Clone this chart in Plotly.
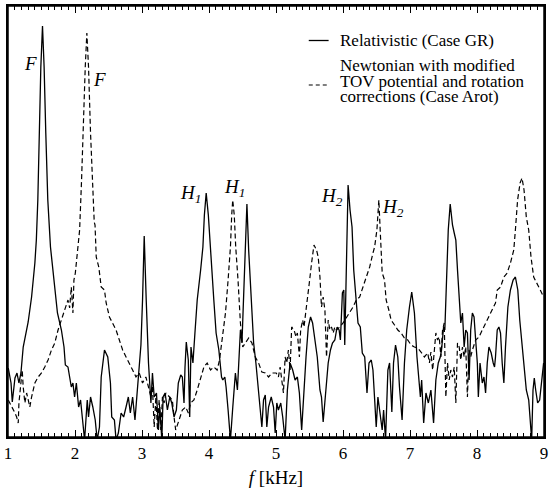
import plotly.graph_objects as go

# Relativistic (Case GR) spectrum: frequency [kHz] and amplitude (arbitrary units)
f_gr = [1.004, 1.045, 1.064, 1.104, 1.134, 1.163, 1.193, 1.227, 1.301, 1.352, 1.401, 1.423, 1.445, 1.464, 1.490, 1.515,
        1.539, 1.564, 1.594, 1.634, 1.698, 1.738, 1.797, 1.836, 1.856, 1.895, 1.920, 1.945, 1.969, 1.994, 2.020, 2.054,
        2.083, 2.103, 2.128, 2.143, 2.183, 2.202, 2.232, 2.266, 2.302, 2.331, 2.365, 2.391, 2.440, 2.489, 2.529, 2.548,
        2.588, 2.613, 2.647, 2.688, 2.726, 2.762, 2.796, 2.826, 2.860, 2.895, 2.934, 2.959, 2.984, 3.008, 3.033, 3.063,
        3.097, 3.133, 3.156, 3.182, 3.216, 3.245, 3.266, 3.296, 3.315, 3.345, 3.379, 3.415, 3.444, 3.478, 3.513, 3.542,
        3.578, 3.602, 3.627, 3.642, 3.661, 3.691, 3.712, 3.731, 3.760, 3.790, 3.824, 3.875, 3.909, 3.931, 3.958, 3.990,
        4.028, 4.072, 4.106, 4.147, 4.187, 4.206, 4.236, 4.255, 4.285, 4.320, 4.355, 4.394, 4.424, 4.443, 4.469, 4.492,
        4.518, 4.543, 4.566, 4.592, 4.632, 4.666, 4.700, 4.730, 4.765, 4.789, 4.814, 4.840, 4.863, 4.889, 4.929, 4.963,
        4.988, 5.012, 5.036, 5.071, 5.100, 5.136, 5.170, 5.210, 5.249, 5.285, 5.319, 5.349, 5.383, 5.418, 5.448, 5.482,
        5.516, 5.546, 5.581, 5.616, 5.656, 5.679, 5.704, 5.739, 5.779, 5.813, 5.843, 5.878, 5.912, 5.942, 5.961, 5.991,
        6.012, 6.026, 6.050, 6.076, 6.105, 6.135, 6.160, 6.190, 6.224, 6.258, 6.288, 6.324, 6.358, 6.388, 6.422, 6.447,
        6.472, 6.496, 6.521, 6.555, 6.585, 6.606, 6.635, 6.670, 6.695, 6.729, 6.754, 6.784, 6.818, 6.843, 6.882, 6.917,
        6.951, 6.992, 7.026, 7.066, 7.104, 7.155, 7.174, 7.204, 7.238, 7.274, 7.312, 7.352, 7.386, 7.422, 7.452, 7.471,
        7.501, 7.520, 7.550, 7.571, 7.600, 7.634, 7.660, 7.684, 7.709, 7.734, 7.758, 7.783, 7.808, 7.832, 7.857, 7.882,
        7.906, 7.931, 7.956, 7.980, 8.005, 8.020, 8.045, 8.079, 8.104, 8.128, 8.153, 8.178, 8.212, 8.242, 8.262, 8.276,
        8.302, 8.327, 8.351, 8.376, 8.401, 8.425, 8.461, 8.499, 8.539, 8.573, 8.609, 8.638, 8.672, 8.707, 8.736, 8.772,
        8.796, 8.816, 8.836, 8.855, 8.876, 8.905, 8.935, 8.969, 8.994]
a_gr = [69, 54, 35, 59, 64, 54, 64, 90, 115, 140, 174, 197, 237, 304, 370, 411,
        370, 304, 237, 190, 150, 124, 107, 90, 72, 70, 60, 50, 54, 40, 54, 30,
        37, 20, 7, -3, 37, 20, 40, 30, 17, -3, 10, 60, 87, 80, 54, 20,
        17, -3, 4, 24, 20, 30, 40, 24, 40, 17, 47, 74, 92, 137, 201, 137,
        74, 34, 64, 40, 44, 7, 30, -3, 40, 44, 27, 40, 34, 20, 27, 54,
        62, 60, 34, 70, 95, 77, 20, 90, 74, 104, 137, 167, 190, 222, 244, 222,
        187, 137, 104, 87, 60, 57, 60, 50, 27, -3, 30, 64, 47, 70, 107, 94,
        137, 187, 233, 187, 137, 94, 74, 54, 27, 10, 37, 42, 10, 30, 40, 30,
        4, 34, 27, 34, 20, -3, 47, 74, 67, 57, 60, 44, 7, 50, 80, 110,
        120, 114, 94, 80, 47, 40, 15, 44, 74, 87, 94, 97, 110, 107, 97, 144,
        147, 92, 174, 252, 227, 210, 167, 140, 114, 110, 84, 80, 44, 74, 77, 67,
        40, 10, 40, 20, 7, 27, -3, 67, 74, 25, 74, 92, 80, 50, 17, 74,
        107, 130, 145, 124, 80, 40, 57, 14, 44, 34, 47, 14, 57, 74, 80, 87,
        110, 107, 174, 207, 233, 212, 204, 197, 167, 140, 114, 124, 90, 107, 104, 57,
        107, 124, 120, 97, 74, 40, 74, 54, 60, 44, 74, 90, 84, 74, 70, 80,
        107, 110, 104, 74, 54, 90, 130, 147, 157, 160, 147, 117, 90, 67, 47, 37,
        7, -3, 47, 59, 47, 34, 37, 57, 74]

# Newtonian with modified TOV potential and rotation corrections (Case Arot)
f_arot = [1.004, 1.045, 1.079, 1.104, 1.129, 1.153, 1.163, 1.193, 1.212, 1.227, 1.252, 1.278, 1.301, 1.326, 1.352, 1.401,
          1.450, 1.500, 1.549, 1.598, 1.649, 1.698, 1.747, 1.797, 1.846, 1.895, 1.920, 1.945, 1.969, 1.984, 2.005, 2.031,
          2.069, 2.098, 2.118, 2.153, 2.177, 2.202, 2.232, 2.266, 2.287, 2.299, 2.309, 2.317, 2.355, 2.391, 2.440, 2.465,
          2.514, 2.563, 2.613, 2.662, 2.711, 2.762, 2.811, 2.860, 2.910, 2.959, 3.008, 3.058, 3.097, 3.133, 3.156, 3.182,
          3.207, 3.231, 3.256, 3.281, 3.305, 3.330, 3.355, 3.404, 3.453, 3.478, 3.503, 3.553, 3.602, 3.652, 3.691, 3.726,
          3.775, 3.824, 3.875, 3.924, 3.973, 4.023, 4.072, 4.121, 4.157, 4.196, 4.246, 4.285, 4.320, 4.339, 4.354, 4.377,
          4.399, 4.433, 4.469, 4.503, 4.543, 4.592, 4.641, 4.691, 4.740, 4.789, 4.840, 4.889, 4.938, 5.003, 5.036, 5.062,
          5.086, 5.111, 5.136, 5.160, 5.185, 5.210, 5.234, 5.270, 5.299, 5.319, 5.349, 5.368, 5.398, 5.418, 5.448, 5.467,
          5.497, 5.531, 5.567, 5.605, 5.630, 5.656, 5.679, 5.704, 5.730, 5.754, 5.779, 5.804, 5.828, 5.853, 5.878, 5.902,
          5.952, 6.001, 6.050, 6.100, 6.150, 6.199, 6.249, 6.298, 6.347, 6.398, 6.447, 6.472, 6.506, 6.535, 6.555, 6.585,
          6.620, 6.644, 6.684, 6.718, 6.769, 6.818, 6.867, 6.917, 6.966, 7.015, 7.066, 7.115, 7.164, 7.215, 7.265, 7.290,
          7.312, 7.338, 7.364, 7.386, 7.411, 7.436, 7.461, 7.486, 7.511, 7.535, 7.560, 7.585, 7.609, 7.634, 7.660, 7.684,
          7.709, 7.734, 7.758, 7.783, 7.808, 7.832, 7.857, 7.882, 7.906, 7.931, 7.980, 8.030, 8.079, 8.128, 8.178, 8.227,
          8.276, 8.302, 8.351, 8.401, 8.450, 8.499, 8.549, 8.573, 8.606, 8.643, 8.672, 8.702, 8.736, 8.772, 8.806, 8.846,
          8.895, 8.944, 8.994]
a_arot = [37, 32, 27, 24, 20, 14, 34, 60, 67, 50, 34, 44, 37, 30, 40, 54,
          60, 64, 70, 77, 87, 94, 107, 117, 125, 137, 129, 150, 124, 157, 164, 184,
          207, 257, 304, 370, 404, 370, 304, 237, 215, 212, 192, 180, 170, 150, 147, 134,
          120, 114, 107, 97, 87, 80, 74, 67, 60, 64, 54, 60, 50, 40, 50, 10,
          40, 7, 37, 7, 40, 34, 44, 40, 37, 20, 7, 17, 27, 30, 24, 34,
          37, 47, 60, 70, 74, 67, 70, 67, 77, 97, 124, 157, 190, 222, 237, 222,
          190, 157, 114, 90, 94, 99, 94, 80, 74, 65, 64, 60, 64, 64, 60, 70,
          57, 44, 80, 74, 87, 67, 110, 107, 100, 104, 80, 107, 117, 110, 127, 140,
          154, 174, 192, 187, 180, 160, 130, 140, 127, 80, 117, 107, 110, 104, 110, 107,
          110, 114, 119, 124, 130, 137, 140, 150, 160, 170, 184, 190, 207, 237, 207, 164,
          157, 137, 127, 117, 112, 107, 104, 99, 97, 92, 90, 89, 85, 80, 84, 74,
          85, 67, 87, 104, 97, 100, 80, 107, 114, 40, 74, 57, 67, 60, 70, 34,
          94, 90, 77, 90, 80, 90, 40, 87, 80, 87, 97, 100, 107, 114, 120, 127,
          134, 147, 150, 160, 164, 174, 187, 207, 237, 254, 259, 247, 220, 207, 180, 160,
          154, 147, 140]

# Mode labels: (text, frequency, amplitude)
label_text = ["F", "F", "H<sub>1</sub>", "H<sub>1</sub>", "H<sub>2</sub>", "H<sub>2</sub>"]
label_f = [1.33, 2.37, 3.72, 4.38, 5.84, 6.74]
label_a = [374, 358, 243, 249, 240, 229]

legend_lines = ["Relativistic (Case GR)", "Newtonian with modified",
                "TOV potential and rotation", "corrections (Case Arot)"]

SERIF = "Liberation Serif"

W, H = 550, 489
L, R, T, B = 8, 2, 6, 52
pw, ph = W - L - R, H - T - B


def px(xp):
    return (xp - L) / pw


def py(yp):
    return 1 - (yp - T) / ph


fig = go.Figure()
fig.add_trace(go.Scatter(x=f_gr, y=a_gr, mode="lines", name="Relativistic (Case GR)",
                         line=dict(color="black", width=1.3), showlegend=False))
fig.add_trace(go.Scatter(x=f_arot, y=a_arot, mode="lines",
                         name="Newtonian with modified TOV potential and rotation corrections (Case Arot)",
                         line=dict(color="black", width=1.2, dash="5px,3px"), showlegend=False))

for t, fx, ay in zip(label_text, label_f, label_a):
    fig.add_annotation(x=fx, y=ay, text="<i>" + t + "</i>", showarrow=False,
                       font=dict(family=SERIF, size=19, color="black"),
                       xanchor="center", yanchor="middle")

for txt, yp in zip(legend_lines, [41, 66, 81.5, 97]):
    fig.add_annotation(xref="paper", yref="paper", x=px(340), y=py(yp), text=txt, showarrow=False,
                       xanchor="left", yanchor="middle",
                       font=dict(family=SERIF, size=17, color="black"))
fig.add_shape(type="line", xref="paper", yref="paper", x0=px(311), x1=px(331), y0=py(40.5), y1=py(40.5),
              line=dict(color="black", width=1.3))
fig.add_shape(type="line", xref="paper", yref="paper", x0=px(311), x1=px(331), y0=py(85), y1=py(85),
              line=dict(color="black", width=1.2, dash="4px,3px"))

# plot frame drawn over the data area
fig.add_shape(type="rect", xref="x domain", yref="y domain", x0=0, x1=1, y0=0, y1=1,
              line=dict(color="black", width=1.5), fillcolor="rgba(0,0,0,0)", layer="above")

fig.update_layout(
    width=W, height=H,
    margin=dict(l=L, r=R, t=T, b=B, pad=0),
    paper_bgcolor="white", plot_bgcolor="white",
    showlegend=False,
    font=dict(family=SERIF, color="black", size=17),
)
fig.update_xaxes(range=[1, 9], tickmode="linear", tick0=1, dtick=1,
                 ticks="inside", ticklen=7, tickwidth=1, tickcolor="black",
                 minor=dict(tickmode="linear", tick0=1, dtick=0.1, ticks="inside", ticklen=4,
                            tickwidth=1, tickcolor="black", showgrid=False),
                 showline=True, linecolor="black", linewidth=1.5, mirror="allticks",
                 showgrid=False, zeroline=False, ticklabeloverflow="allow",
                 tickfont=dict(family=SERIF, size=17, color="black"),
                 title=dict(text="<i>f</i> [kHz]", font=dict(family=SERIF, size=19, color="black"), standoff=9))
fig.update_yaxes(range=[0, 431], showticklabels=False, ticks="",
                 showline=True, linecolor="black", linewidth=1.5, mirror=True,
                 showgrid=False, zeroline=False)

fig.write_html("out.html", config={"displayModeBar": False},
               post_script="document.body.style.margin='0';"
                           "document.documentElement.style.overflow='hidden';"
                           "document.body.style.overflow='hidden';")
